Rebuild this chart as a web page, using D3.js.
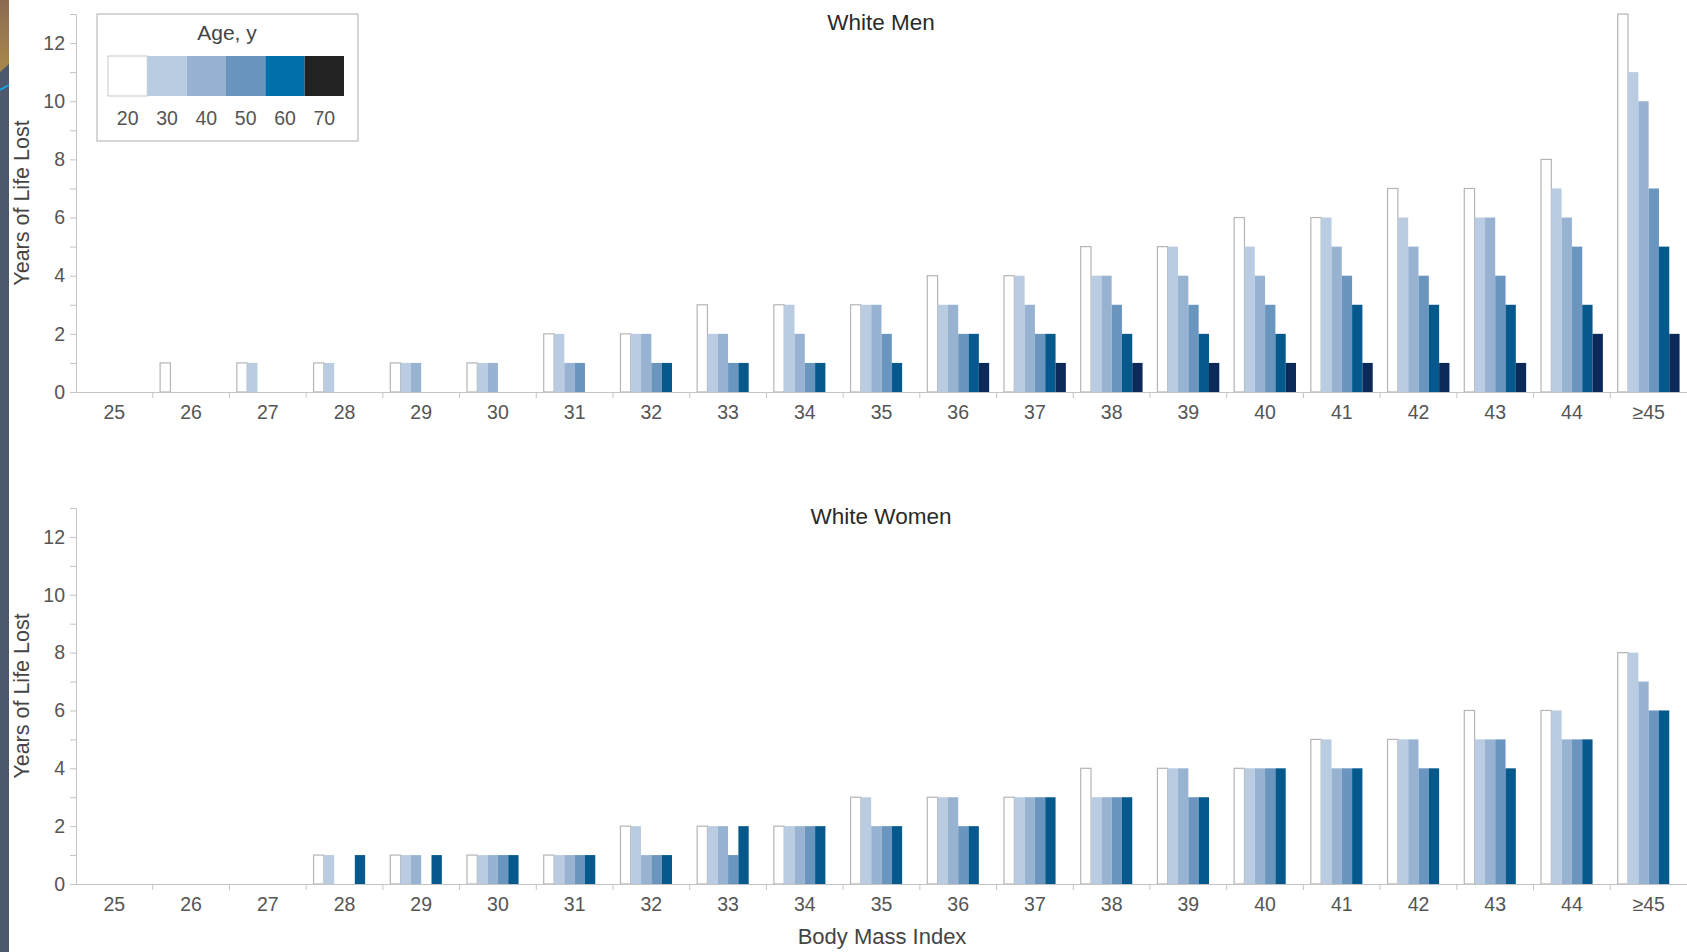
<!DOCTYPE html>
<html lang="en">
<head>
    <meta charset="UTF-8">
    <title>Years of Life Lost by BMI</title>
    <script src="https://d3js.org/d3.v7.min.js"></script>
    <style>
        body {
            margin: 0;
            background: #fff;
        }
        svg text {
            font-family: "Liberation Sans", Arial, sans-serif;
        }
    </style>
</head>
<body>
    <script>
        const W = 1687
        const H = 952

        const bmi = ['25', '26', '27', '28', '29', '30', '31', '32', '33', '34', '35',
            '36', '37', '38', '39', '40', '41', '42', '43', '44', '≥45']
        const ages = ['20', '30', '40', '50', '60', '70']

        // years of life lost, one array per starting age (men)
        const men20 = [0, 1, 1, 1, 1, 1, 2, 2, 3, 3, 3, 4, 4, 5, 5, 6, 6, 7, 7, 8, 13]
        const men30 = [0, 0, 1, 1, 1, 1, 2, 2, 2, 3, 3, 3, 4, 4, 5, 5, 6, 6, 6, 7, 11]
        const men40 = [0, 0, 0, 0, 1, 1, 1, 2, 2, 2, 3, 3, 3, 4, 4, 4, 5, 5, 6, 6, 10]
        const men50 = [0, 0, 0, 0, 0, 0, 1, 1, 1, 1, 2, 2, 2, 3, 3, 3, 4, 4, 4, 5, 7]
        const men60 = [0, 0, 0, 0, 0, 0, 0, 1, 1, 1, 1, 2, 2, 2, 2, 2, 3, 3, 3, 3, 5]
        const men70 = [0, 0, 0, 0, 0, 0, 0, 0, 0, 0, 0, 1, 1, 1, 1, 1, 1, 1, 1, 2, 2]

        // women (no age-70 bars in the figure)
        const women20 = [0, 0, 0, 1, 1, 1, 1, 2, 2, 2, 3, 3, 3, 4, 4, 4, 5, 5, 6, 6, 8]
        const women30 = [0, 0, 0, 1, 1, 1, 1, 2, 2, 2, 3, 3, 3, 3, 4, 4, 5, 5, 5, 6, 8]
        const women40 = [0, 0, 0, 0, 1, 1, 1, 1, 2, 2, 2, 3, 3, 3, 4, 4, 4, 5, 5, 5, 7]
        const women50 = [0, 0, 0, 0, 0, 1, 1, 1, 1, 2, 2, 2, 3, 3, 3, 4, 4, 4, 5, 5, 6]
        const women60 = [0, 0, 0, 1, 1, 1, 1, 1, 2, 2, 2, 2, 3, 3, 3, 4, 4, 4, 4, 5, 6]

        const yTicks = [0, 2, 4, 6, 8, 10, 12]

        const barColors = ['#ffffff', '#b9cce1', '#98b3d1', '#6a95be', '#05598c', '#0b2a59']
        const legendColors = ['#ffffff', '#b9cce1', '#98b3d1', '#6a95be', '#0070ab', '#222222']

        const svg = d3.select('body')
            .append('svg')
            .attr('width', W)
            .attr('height', H)

        // strip on the left edge of the slide
        const grad = svg.append('defs').append('linearGradient')
            .attr('id', 'strip').attr('x1', 0).attr('y1', 0).attr('x2', 0).attr('y2', 1)
        grad.append('stop').attr('offset', 0).attr('stop-color', '#8c6a52')
        grad.append('stop').attr('offset', 1).attr('stop-color', '#a8894a')
        svg.append('rect').attr('x', 0).attr('y', 0).attr('width', 9).attr('height', H).attr('fill', '#4b586d')
        svg.append('path').attr('d', 'M0,0H9V64L0,72Z').attr('fill', 'url(#strip)')
        svg.append('path').attr('d', 'M0,90L9,85').attr('stroke', '#19a6dc').attr('stroke-width', 2)

        const x0 = d3.scaleBand()
            .domain(bmi)
            .range([76, W])

        const x1 = d3.scaleBand()
            .domain(ages)
            .range([0, x0.bandwidth()])
            .paddingOuter(0.72)

        function panel(opts) {
            const y = d3.scaleLinear()
                .domain([0, 13])
                .range([opts.y0, opts.y13])

            const g = svg.append('g')

            // y axis with a tick at every year, labels on even years
            const yAxis = d3.axisLeft(y)
                .tickValues(d3.range(0, 14))
                .tickSize(6)
                .tickPadding(5)
                .tickFormat(d => yTicks.includes(d) ? d : '')
            const ya = g.append('g')
                .attr('transform', 'translate(76,0)')
                .call(yAxis)
            ya.select('.domain').attr('stroke', '#c4c4c4')
            ya.selectAll('.tick line').attr('stroke', '#c4c4c4')
            ya.selectAll('.tick text').attr('fill', '#555').attr('font-size', 19.5)

            // bars
            const groups = g.append('g')
                .selectAll('g')
                .data(bmi.map((b, i) => ({ b, vals: opts.series.map(s => s[i]) })))
                .enter()
                .append('g')
                .attr('transform', d => `translate(${x0(d.b)},0)`)

            groups.selectAll('rect')
                .data(d => d.vals.map((v, k) => ({ age: ages[k], v, k })))
                .enter()
                .filter(d => d.v > 0)
                .append('rect')
                .attr('x', d => x1(d.age))
                .attr('y', d => y(d.v))
                .attr('width', x1.bandwidth())
                .attr('height', d => y(0) - y(d.v))
                .attr('fill', d => barColors[d.k])
                .attr('stroke', d => d.k === 0 ? '#b5b5b5' : 'none')
                .attr('stroke-width', 1.2)

            // x axis: labels at band centres, ticks at band edges
            const xAxis = d3.axisBottom(x0).tickSize(0).tickPadding(13)
            const xa = g.append('g')
                .attr('transform', `translate(0,${opts.y0})`)
                .call(xAxis)
            xa.select('.domain').attr('stroke', '#c4c4c4')
            xa.selectAll('.tick text').attr('fill', '#555').attr('font-size', 19.5)

            g.append('g')
                .selectAll('line')
                .data(bmi.slice(1))
                .enter()
                .append('line')
                .attr('x1', d => x0(d))
                .attr('x2', d => x0(d))
                .attr('y1', opts.y0)
                .attr('y2', opts.y0 + 6)
                .attr('stroke', '#c4c4c4')

            g.append('text')
                .attr('x', 881)
                .attr('y', opts.titleY)
                .attr('text-anchor', 'middle')
                .attr('font-size', 22.5)
                .attr('fill', '#2a2a2a')
                .text(opts.title)

            g.append('text')
                .attr('transform', `translate(29,${opts.labelY}) rotate(-90)`)
                .attr('text-anchor', 'middle')
                .attr('font-size', 21.5)
                .attr('fill', '#444')
                .text('Years of Life Lost')
        }

        panel({
            title: 'White Men',
            titleY: 30,
            y0: 392,
            y13: 14,
            labelY: 203,
            series: [men20, men30, men40, men50, men60, men70]
        })

        panel({
            title: 'White Women',
            titleY: 524,
            y0: 884,
            y13: 508,
            labelY: 696,
            series: [women20, women30, women40, women50, women60]
        })

        svg.append('text')
            .attr('x', 882)
            .attr('y', 944)
            .attr('text-anchor', 'middle')
            .attr('font-size', 22)
            .attr('fill', '#444')
            .text('Body Mass Index')

        // legend
        const legend = svg.append('g').attr('transform', 'translate(97,14)')
        legend.append('rect')
            .attr('width', 261)
            .attr('height', 127)
            .attr('fill', '#fff')
            .attr('stroke', '#c8c8c8')
            .attr('stroke-width', 1.5)
        legend.append('text')
            .attr('x', 130)
            .attr('y', 26)
            .attr('text-anchor', 'middle')
            .attr('font-size', 21)
            .attr('fill', '#444')
            .text('Age, y')

        const lx = d3.scaleBand().domain(ages).range([11, 247])
        legend.selectAll('.sw')
            .data(ages)
            .enter()
            .append('rect')
            .attr('x', d => lx(d))
            .attr('y', 42)
            .attr('width', lx.bandwidth())
            .attr('height', 40)
            .attr('fill', (d, i) => legendColors[i])
            .attr('stroke', (d, i) => i === 0 ? '#c8c8c8' : 'none')
        legend.selectAll('.lbl')
            .data(ages)
            .enter()
            .append('text')
            .attr('x', d => lx(d) + lx.bandwidth() / 2)
            .attr('y', 111)
            .attr('text-anchor', 'middle')
            .attr('font-size', 19.5)
            .attr('fill', '#555')
            .text(d => d)
    </script>
</body>
</html>
